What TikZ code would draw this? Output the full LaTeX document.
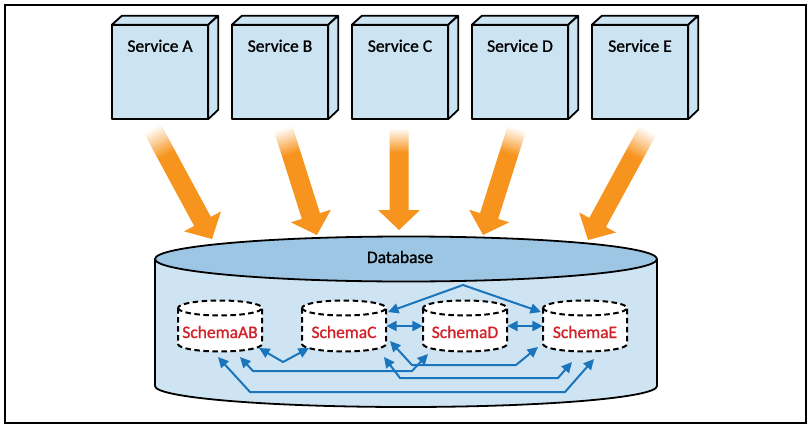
\documentclass[tikz,border=0pt]{standalone}
\usepackage{fontspec}
\setmainfont{Carlito}
\newfontfamily\lblfont{Carlito}[BoldFont={Carlito}, BoldFeatures={FakeBold=1.2}]
\usetikzlibrary{arrows.meta,calc}
\definecolor{boxblue}{HTML}{CCE3F2}
\definecolor{dbtop}{HTML}{9DC6E4}
\definecolor{dbbody}{HTML}{CFE4F2}
\definecolor{oarrow}{HTML}{F7941D}
\definecolor{cblue}{HTML}{1B75BC}
\definecolor{sred}{HTML}{D2232A}
\pgfdeclareverticalshading{ofade}{100bp}{color(0bp)=(oarrow); color(63bp)=(oarrow); color(75bp)=(white); color(100bp)=(white)}
\tikzset{
  svc/.style={draw, line width=1.8pt, fill=boxblue, line join=round},
  lbl/.style={font=\lblfont\bfseries\fontsize{17.5}{20}\selectfont, anchor=base, inner sep=0},
  schemabox/.style={minimum width=84pt, minimum height=52pt, inner sep=0},
  cyl/.style={draw, dash pattern=on 5.5pt off 3.5pt, line width=2pt, fill=white},
  conn/.style={draw=cblue, line width=2pt, {Triangle[length=10.5pt,width=10pt]}-{Triangle[length=10.5pt,width=10pt]}, line join=round},
}
\newcommand{\servicebox}[3]{%
  \node[minimum width=96pt, minimum height=94pt, inner sep=0] (#1) at (#2+48,-72) {};
  \draw[svc] (#1.south west) rectangle (#1.north east);
  \draw[svc] (#1.north west) -- ++(10,9) -- ++(96,0) -- (#1.north east) -- cycle;
  \draw[svc] (#1.north east) -- ++(10,9) -- ++(0,-94) -- (#1.south east) -- cycle;
  \node[lbl] at ([yshift=-27]#1.north) {#3};
}
\newcommand{\schemacyl}[3]{%
  \node[schemabox] (#1) at (#2,-326) {};
  \path[cyl] ($(#1.center)+(-42,18)$) -- ++(0,-36) arc[start angle=180,end angle=360,x radius=42,y radius=7.5] -- ++(0,36) arc[start angle=0,end angle=180,x radius=42,y radius=7.5] -- cycle;
  \draw[cyl, fill=none] ($(#1.center)+(-42,18)$) arc[start angle=180,end angle=360,x radius=42,y radius=7.5];
  \node[lbl, text=sred] at ($(#1.center)+(0,-12)$) {#3};
}
\newcommand{\orarrow}[4]{%
  \begin{scope}[transform canvas={shift={(#1pt,-#2pt)}, rotate=#3}]
    \shade[shading=ofade] (-9.5,0) -- (9.5,0) -- (9.5,-#4+20) -- (21,-#4+20) -- (0,-#4) -- (-21,-#4+20) -- (-9.5,-#4+20) -- cycle;
  \end{scope}}
\begin{document}
\begin{tikzpicture}[x=1pt,y=1pt]
\useasboundingbox (0,0) rectangle (811,-428);
\fill[white] (0,0) rectangle (811,-428);
\draw[line width=1.4pt] (5,-5) rectangle (806,-423);

% services
\servicebox{sa}{112}{Service A}
\servicebox{sb}{232}{Service B}
\servicebox{scs}{352}{Service C}
\servicebox{sdd}{472}{Service D}
\servicebox{see}{592}{Service E}

% orange arrows
\orarrow{152}{128}{28.4}{126.2}
\orarrow{283}{128}{17.6}{112.3}
\orarrow{399}{128}{0}{102}
\orarrow{517}{128}{-17.6}{112.3}
\orarrow{648}{130}{-28.6}{125.3}

% database
\fill[dbbody] (155,-259) -- (155,-386) arc[start angle=180,end angle=360,x radius=251,y radius=21] -- (657,-259) -- cycle;
\draw[line width=1.8pt] (155,-259) -- (155,-386) arc[start angle=180,end angle=360,x radius=251,y radius=21] -- (657,-259);
\draw[line width=1.8pt, fill=dbtop] (406,-259) ellipse [x radius=251, y radius=22.5];
\node[lbl] (db) at (400,-263) {Database};

% schemas
\schemacyl{sab}{220}{SchemaAB}
\schemacyl{sc}{344}{SchemaC}
\schemacyl{sd}{465}{SchemaD}
\schemacyl{se}{585}{SchemaE}

% connectors
\coordinate (v1) at (283,-362);
\coordinate (apex) at (463,-285);
\draw[conn] ([shift={(39,-22)}]sab.center) -- (v1) -- ([shift={(-35,-22)}]sc.center);
\draw[conn] (sc.east) -- (sd.west);
\draw[conn] (sd.east) -- (se.west);
\draw[conn] ([shift={(44,14)}]sc.center) -- (apex) -- ([shift={(-44,14)}]se.center);
\draw[conn] ([shift={(20,-31)}]sab.center) -- (253,-371) -- (412,-371) -- ([shift={(-37,-28)}]sd.center);
\draw[conn] ([shift={(46,-15)}]sc.center) -- (412,-365) -- (516,-365) -- ([shift={(-47,-21)}]se.center);
\draw[conn] ([shift={(40,-31)}]sc.center) -- (400,-378) -- (558,-378) -- ([shift={(-13,-36)}]se.center);
\draw[conn] ([shift={(-2,-31)}]sab.center) -- (250,-392) -- (565,-392) -- ([shift={(9,-33)}]se.center);
\end{tikzpicture}
\end{document}
